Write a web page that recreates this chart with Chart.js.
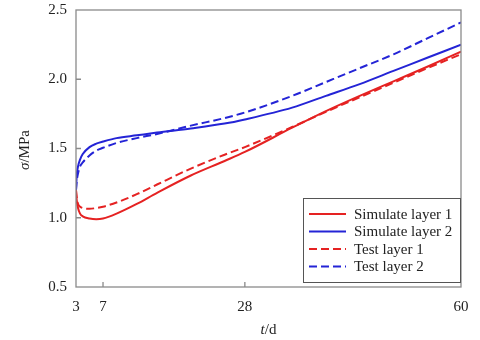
<!DOCTYPE html>
<html>
<head>
<meta charset="utf-8">
<script src="https://cdn.jsdelivr.net/npm/chart.js@4"></script>
<style>
  html, body { margin: 0; padding: 0; background: #fff; }
  #wrap { width: 480px; height: 340px; }
</style>
</head>
<body>
<div id="wrap"><canvas id="chart"></canvas></div>
<script>
// ages in days and stress in MPa
const days = [3, 3.1, 3.3, 3.6, 4, 5, 6, 7, 9, 12, 15, 20, 25, 28, 35, 40, 45, 50, 55, 60];
const simLayer1 = [1.2, 1.13, 1.07, 1.03, 1.01, 0.995, 0.99, 0.995, 1.03, 1.10, 1.18, 1.305, 1.41, 1.475, 1.65, 1.77, 1.88, 1.985, 2.09, 2.20];
const simLayer2 = [1.2, 1.30, 1.37, 1.42, 1.46, 1.51, 1.535, 1.55, 1.575, 1.595, 1.615, 1.645, 1.68, 1.71, 1.795, 1.88, 1.965, 2.06, 2.155, 2.25];
const testLayer1 = [1.2, 1.15, 1.10, 1.08, 1.07, 1.065, 1.07, 1.08, 1.11, 1.17, 1.24, 1.355, 1.455, 1.51, 1.655, 1.765, 1.87, 1.975, 2.08, 2.18];
const testLayer2 = [1.2, 1.26, 1.32, 1.37, 1.40, 1.45, 1.485, 1.505, 1.54, 1.575, 1.605, 1.665, 1.72, 1.76, 1.88, 1.98, 2.08, 2.18, 2.295, 2.41];
const xTicks = [3, 7, 28, 60];
const yTicks = [0.5, 1.0, 1.5, 2.0, 2.5];

const red = '#e52222';
const blue = '#2424d6';
const serif = '"Liberation Serif", "DejaVu Serif", serif';

function pts(ys) {
    return days.map((d, i) => ({ x: d, y: ys[i] }));
}

function line(label, ys, color, dash) {
    return {
        label: label,
        data: pts(ys),
        borderColor: color,
        backgroundColor: color,
        borderWidth: 2,
        borderDash: dash,
        pointRadius: 0,
        cubicInterpolationMode: 'monotone',
        fill: false
    };
}

// box, inward ticks, axis titles and the legend
const frame = {
    id: 'frame',
    afterDraw(c) {
        const ctx = c.ctx;
        const a = c.chartArea;
        const xs = c.scales.x, ys = c.scales.y;
        ctx.save();
        ctx.strokeStyle = '#8a8a8a';
        ctx.lineWidth = 1.3;
        ctx.strokeRect(a.left, a.top, a.right - a.left, a.bottom - a.top);
        ctx.beginPath();
        xTicks.slice(1, -1).forEach(t => {
            const px = xs.getPixelForValue(t);
            ctx.moveTo(px, a.bottom);
            ctx.lineTo(px, a.bottom - 5);
        });
        yTicks.slice(1, -1).forEach(t => {
            const py = ys.getPixelForValue(t);
            ctx.moveTo(a.left, py);
            ctx.lineTo(a.left + 5, py);
        });
        ctx.stroke();

        // axis titles
        ctx.fillStyle = '#222';
        ctx.textBaseline = 'middle';
        ctx.font = 'italic 15px ' + serif;
        const tW = ctx.measureText('t').width;
        ctx.font = '15px ' + serif;
        const dW = ctx.measureText('/d').width;
        let sx = (a.left + a.right) / 2 - (tW + dW) / 2;
        ctx.textAlign = 'left';
        ctx.font = 'italic 15px ' + serif;
        ctx.fillText('t', sx, 330);
        ctx.font = '15px ' + serif;
        ctx.fillText('/d', sx + tW, 330);

        ctx.save();
        ctx.translate(25, 150);
        ctx.rotate(-Math.PI / 2);
        ctx.font = 'italic 15px ' + serif;
        const sW = ctx.measureText('σ').width;
        ctx.font = '15px ' + serif;
        const mW = ctx.measureText('/MPa').width;
        sx = -(sW + mW) / 2;
        ctx.font = 'italic 15px ' + serif;
        ctx.fillText('σ', sx, 0);
        ctx.font = '15px ' + serif;
        ctx.fillText('/MPa', sx + sW, 0);
        ctx.restore();

        // legend
        const bx = 303, by = 198, bw = 157, bh = 84;
        ctx.fillStyle = '#fff';
        ctx.fillRect(bx, by, bw, bh);
        ctx.strokeStyle = '#555';
        ctx.lineWidth = 1;
        ctx.strokeRect(bx + 0.5, by + 0.5, bw, bh);
        ctx.font = '15px ' + serif;
        ctx.textAlign = 'left';
        c.data.datasets.forEach((ds, i) => {
            const y = by + 16 + i * 17.5;
            ctx.beginPath();
            ctx.strokeStyle = ds.borderColor;
            ctx.lineWidth = 2;
            ctx.setLineDash(ds.borderDash || []);
            ctx.moveTo(bx + 6, y);
            ctx.lineTo(bx + 43, y);
            ctx.stroke();
            ctx.setLineDash([]);
            ctx.fillStyle = '#222';
            ctx.fillText(ds.label, bx + 51, y + 1);
        });
        ctx.restore();
    }
};

window.onload = () => {
    const ctx = document.getElementById('chart').getContext('2d');
    new Chart(ctx, {
        type: 'line',
        data: {
            datasets: [
                line('Simulate layer 1', simLayer1, red, []),
                line('Simulate layer 2', simLayer2, blue, []),
                line('Test layer 1', testLayer1, red, [8, 4]),
                line('Test layer 2', testLayer2, blue, [8, 4])
            ]
        },
        options: {
            responsive: true,
            maintainAspectRatio: false,
            animation: false,
            layout: { padding: { top: 10, right: 19, left: 0, bottom: 0 } },
            plugins: {
                legend: { display: false },
                tooltip: { enabled: false }
            },
            scales: {
                x: {
                    type: 'linear',
                    min: 3,
                    max: 60,
                    afterBuildTicks: s => { s.ticks = xTicks.map(v => ({ value: v })); },
                    afterFit: s => { s.height = 53; s.paddingLeft = 0; s.paddingRight = 0; },
                    grid: { display: false, drawTicks: false },
                    border: { display: false },
                    ticks: {
                        padding: 11,
                        color: '#222',
                        font: { family: serif, size: 15 },
                        callback: v => String(v)
                    }
                },
                y: {
                    min: 0.5,
                    max: 2.5,
                    afterBuildTicks: s => { s.ticks = yTicks.map(v => ({ value: v })); },
                    afterFit: s => { s.width = 76; s.paddingTop = 0; s.paddingBottom = 0; },
                    grid: { display: false, drawTicks: false },
                    border: { display: false },
                    ticks: {
                        padding: 9,
                        color: '#222',
                        font: { family: serif, size: 15 },
                        callback: v => v.toFixed(1)
                    }
                }
            }
        },
        plugins: [frame]
    });
};
</script>
</body>
</html>
